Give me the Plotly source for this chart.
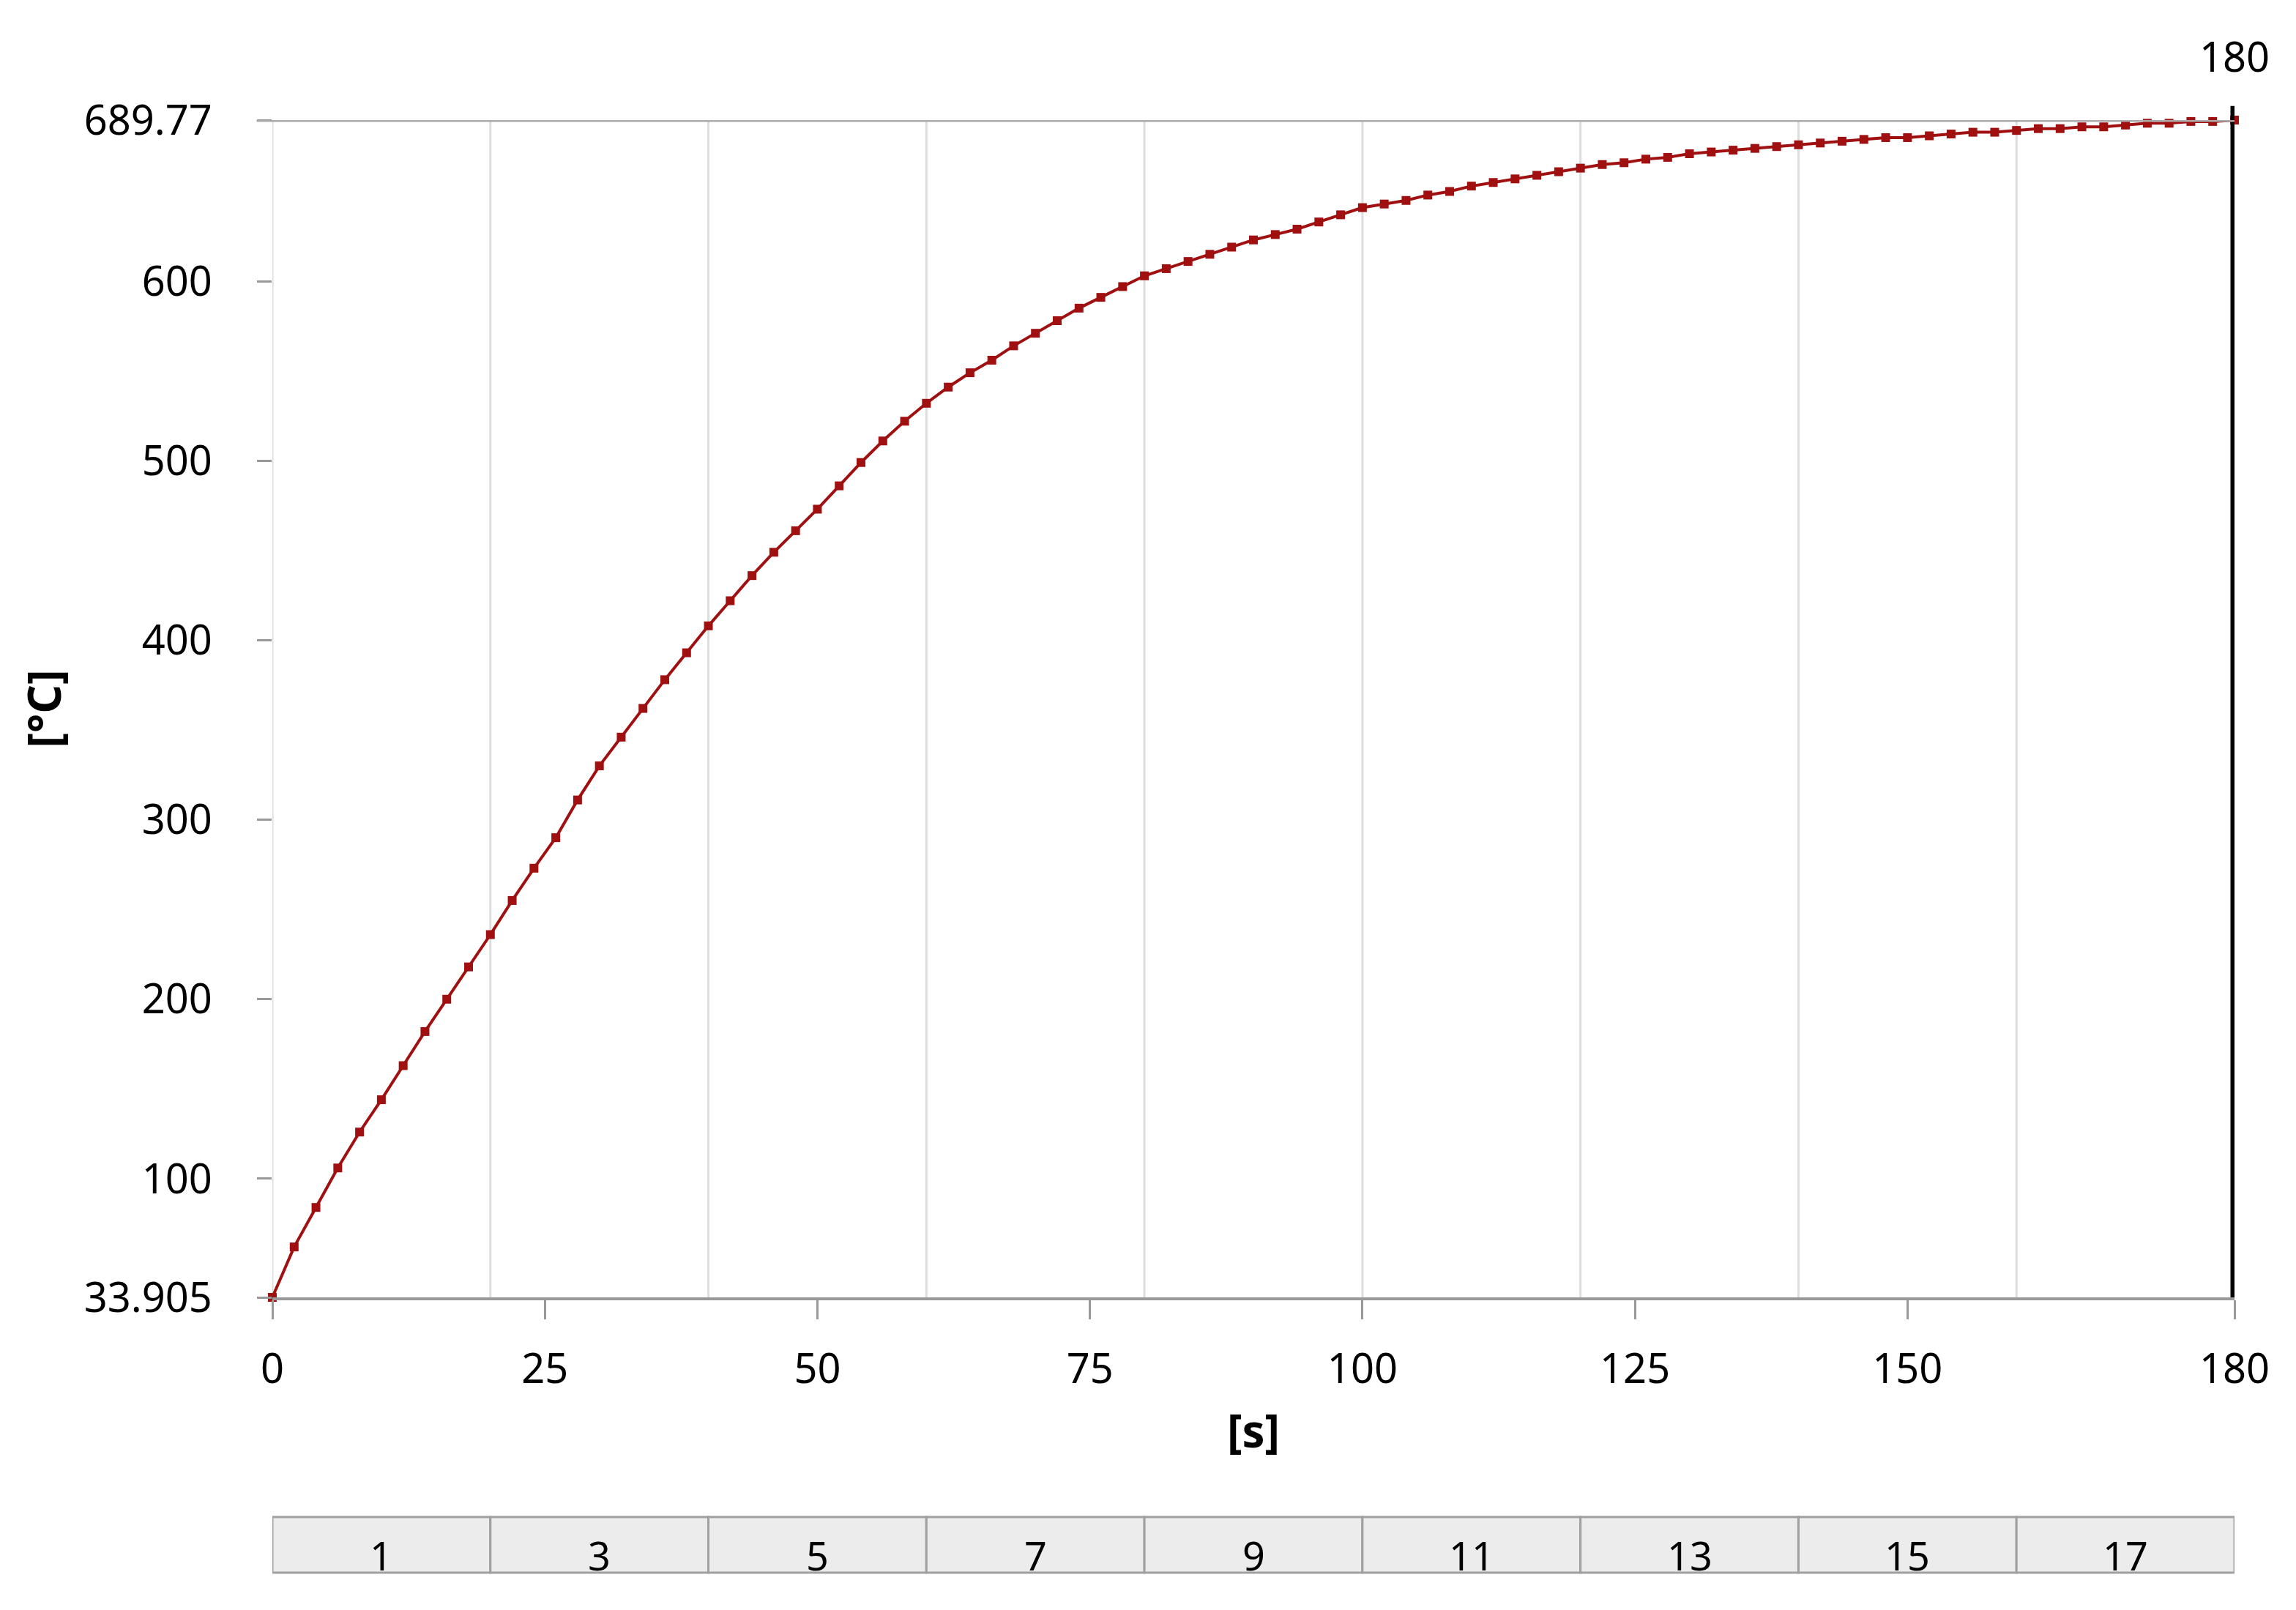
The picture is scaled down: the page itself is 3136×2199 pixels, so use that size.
import plotly.graph_objects as go

time_s = list(range(0, 181, 2))
temp_c = [33.905, 62, 84, 106, 126, 144, 163, 182, 200, 218,
          236, 255, 273, 290, 311, 330, 346, 362, 378, 393,
          408, 422, 436, 449, 461, 473, 486, 499, 511, 522,
          532, 541, 549, 556, 564, 571, 578, 585, 591, 597,
          603, 607, 611, 615, 619, 623, 626, 629, 633, 637,
          641, 643, 645, 648, 650, 653, 655, 657, 659, 661,
          663, 665, 666, 668, 669, 671, 672, 673, 674, 675,
          676, 677, 678, 679, 680, 680, 681, 682, 683, 683,
          684, 685, 685, 686, 686, 687, 688, 688, 689, 689, 689.77]

x_ticks = [0, 25, 50, 75, 100, 125, 150, 180]
y_ticks = [33.905, 100, 200, 300, 400, 500, 600, 689.77]
y_tick_text = ['33.905', '100', '200', '300', '400', '500', '600', '689.77']
step_edges = [0, 20, 40, 60, 80, 100, 120, 140, 160, 180]
step_labels = ['1', '3', '5', '7', '9', '11', '13', '15', '17']

FONT = 'Noto Sans'
RED = '#a01010'

fig = go.Figure()

fig.add_trace(go.Scatter(
    x=time_s, y=temp_c, mode='lines+markers',
    line={'color': RED, 'width': 4},
    marker={'symbol': 'square', 'size': 12, 'color': RED},
    showlegend=False, cliponaxis=False
))

# linea verticale nera al tempo finale
fig.add_shape(type='line', xref='x', yref='paper', x0=180, x1=180, y0=0, y1=1.012,
              line={'color': 'black', 'width': 11})
fig.add_annotation(x=180, y=1.03, xref='x', yref='paper', text='180', showarrow=False,
                   yanchor='bottom', font={'size': 56, 'color': 'black', 'family': FONT})

# barra dei passi sotto il grafico
for i, lab in enumerate(step_labels):
    fig.add_shape(type='rect', xref='x', yref='paper',
                  x0=step_edges[i], x1=step_edges[i + 1], y0=-0.2338, y1=-0.1866,
                  fillcolor='#ececec', line={'color': '#a0a0a0', 'width': 3})
    fig.add_annotation(x=(step_edges[i] + step_edges[i + 1]) / 2, y=-0.2102, xref='x', yref='paper',
                       text=lab, showarrow=False, yanchor='middle', yshift=-14,
                       font={'size': 54, 'color': 'black', 'family': FONT})

fig.update_layout(
    width=3136, height=2199,
    margin={'l': 364, 'r': 92, 't': 156, 'b': 435},
    plot_bgcolor='white', paper_bgcolor='white',
    font={'family': FONT, 'size': 56, 'color': 'black'},
)

fig.update_xaxes(
    range=[0, 180], tickvals=x_ticks, ticks='outside', ticklen=26, tickcolor='#999999', tickwidth=3,
    ticklabelstandoff=20,
    showgrid=False, showline=True, linecolor='#999999', linewidth=4, zeroline=False,
    title={'text': '<b>[s]</b>', 'standoff': 30, 'font': {'size': 62}},
)
# griglia verticale ogni 20 s
for e in step_edges:
    fig.add_shape(type='line', xref='x', yref='paper', x0=e, x1=e, y0=0, y1=1,
                  line={'color': '#dddddd', 'width': 3}, layer='below')

fig.update_yaxes(
    range=[33.905, 689.77], tickvals=y_ticks, ticktext=y_tick_text,
    ticks='outside', ticklen=20, tickcolor='#999999', tickwidth=3, ticklabelstandoff=50,
    showgrid=False, zeroline=False, showline=False,
    title={'text': '<b>[°C]</b>', 'standoff': 10, 'font': {'size': 62}},
)
fig.add_shape(type='line', xref='paper', yref='y', x0=-0.008, x1=1, y0=689.77, y1=689.77,
              line={'color': '#aaaaaa', 'width': 5})

fig.write_html('out.html')
